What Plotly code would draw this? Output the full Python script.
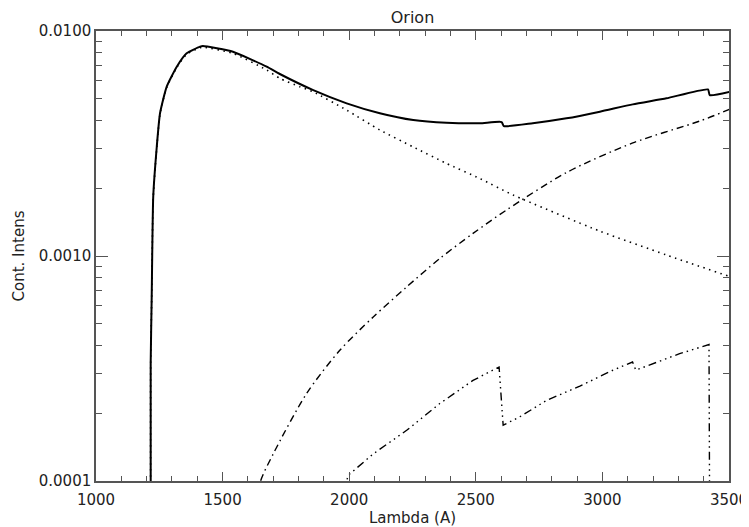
import plotly.graph_objects as go

# wavelength (A) and continuum intensities
lam_total = [1216, 1216, 1220, 1226, 1240, 1253, 1279, 1319, 1358, 1411, 1422, 1541, 1674, 1726,
             1858, 1990, 2121, 2253, 2384, 2516, 2602, 2611, 2725, 2858, 2990, 3120, 3253, 3417,
             3424, 3503]
cont_total = [5.0e-5, 3.34e-4, 6.58e-4, 1.83e-3, 3.06e-3, 4.32e-3, 5.65e-3, 6.94e-3, 7.96e-3,
              8.52e-3, 8.58e-3, 8.09e-3, 6.94e-3, 6.44e-3, 5.46e-3, 4.77e-3, 4.31e-3, 4.02e-3,
              3.91e-3, 3.89e-3, 3.94e-3, 3.78e-3, 3.89e-3, 4.09e-3, 4.38e-3, 4.72e-3, 5.02e-3,
              5.50e-3, 5.19e-3, 5.37e-3]

lam_2phot = [1216, 1216, 1220, 1226, 1240, 1253, 1279, 1319, 1358, 1411, 1422, 1541, 1674, 1726,
             1805, 1857, 1990, 2121, 2251, 2384, 2516, 2646, 2990, 3253, 3499]
cont_2phot = [5.0e-5, 3.30e-4, 6.50e-4, 1.81e-3, 3.03e-3, 4.28e-3, 5.60e-3, 6.88e-3, 7.88e-3,
              8.43e-3, 8.48e-3, 7.95e-3, 6.71e-3, 6.16e-3, 5.65e-3, 5.37e-3, 4.45e-3, 3.63e-3,
              3.06e-3, 2.58e-3, 2.21e-3, 1.87e-3, 1.29e-3, 1.01e-3, 8.13e-4]

lam_hi = [1640, 1650, 1700, 1832, 1963, 2095, 2227, 2358, 2489, 2621, 2858, 3120, 3385, 3503]
cont_hi = [8.5e-5, 1.0e-4, 1.32e-4, 2.45e-4, 3.81e-4, 5.36e-4, 7.29e-4, 9.75e-4, 1.26e-3,
           1.60e-3, 2.35e-3, 3.18e-3, 3.98e-3, 4.49e-3]

lam_hei = [1985, 1990, 1996, 2095, 2227, 2358, 2489, 2592, 2608, 2674, 2779, 2911, 3042, 3119,
           3132, 3305, 3421, 3424]
cont_hei = [9.0e-5, 1.0e-4, 1.06e-4, 1.32e-4, 1.68e-4, 2.21e-4, 2.80e-4, 3.21e-4, 1.77e-4,
            1.93e-4, 2.28e-4, 2.64e-4, 3.11e-4, 3.38e-4, 3.11e-4, 3.68e-4, 4.04e-4, 5.0e-5]

y_major = [1e-4, 1e-3, 1e-2]
y_major_txt = ["0.0001", "0.0010", "0.0100"]
y_minor = [m * d for d in (1e-4, 1e-3) for m in range(2, 10)]

fig = go.Figure()
fig.add_trace(go.Scatter(x=lam_total, y=cont_total, mode="lines",
                         line=dict(color="black", width=2, shape="spline", smoothing=0.5)))
fig.add_trace(go.Scatter(x=lam_2phot, y=cont_2phot, mode="lines",
                         line=dict(color="black", width=1.6, dash="1.5px,4.5px",
                                   shape="spline", smoothing=0.6)))
fig.add_trace(go.Scatter(x=lam_hi, y=cont_hi, mode="lines",
                         line=dict(color="black", width=1.4, dash="7px,4px,1.5px,4px",
                                   shape="spline", smoothing=0.8)))
fig.add_trace(go.Scatter(x=lam_hei, y=cont_hei, mode="lines",
                         line=dict(color="black", width=1.4,
                                   dash="8px,4px,1.5px,4px,1.5px,4px,1.5px,4px")))

# the page body has an 8px margin, so the figure is shifted by 8px
axcol = "#555555"
fig.update_layout(
    width=749, height=519,
    margin=dict(l=88, r=28, t=23, b=46),
    plot_bgcolor="white", paper_bgcolor="white",
    showlegend=False,
    font=dict(family="DejaVu Sans", size=15, color="#222222"),
    title=dict(text="Orion", x=(88 + 316.5) / 749, xref="container", xanchor="center",
               y=1 - 9.5 / 519, yref="container", yanchor="middle",
               font=dict(size=16)),
)
fig.update_xaxes(
    range=[1000, 3500], showgrid=False, zeroline=False, automargin=False,
    showline=True, linecolor=axcol, linewidth=1.5, mirror="ticks",
    ticks="inside", ticklen=9, tickcolor=axcol, tickwidth=1.2,
    tickvals=[1000, 1500, 2000, 2500, 3000, 3500], tickfont=dict(size=15),
    ticklabelstandoff=4,
    minor=dict(ticks="inside", ticklen=5, dtick=100, tickcolor=axcol, tickwidth=1.2, showgrid=False),
    title=dict(text="Lambda (A)", standoff=6, font=dict(size=15)),
)
fig.update_yaxes(
    type="log", range=[-4, -2], showgrid=False, zeroline=False, automargin=False,
    showline=True, linecolor=axcol, linewidth=1.5, mirror="ticks",
    ticks="inside", ticklen=12, tickcolor=axcol, tickwidth=1.2,
    tickvals=y_major, ticktext=y_major_txt, tickfont=dict(size=15),
    minor=dict(ticks="inside", ticklen=6, tickvals=y_minor, tickcolor=axcol, tickwidth=1.2, showgrid=False),
    title=dict(text="Cont. Intens", standoff=11, font=dict(size=15)),
)

fig.write_html("out.html")
